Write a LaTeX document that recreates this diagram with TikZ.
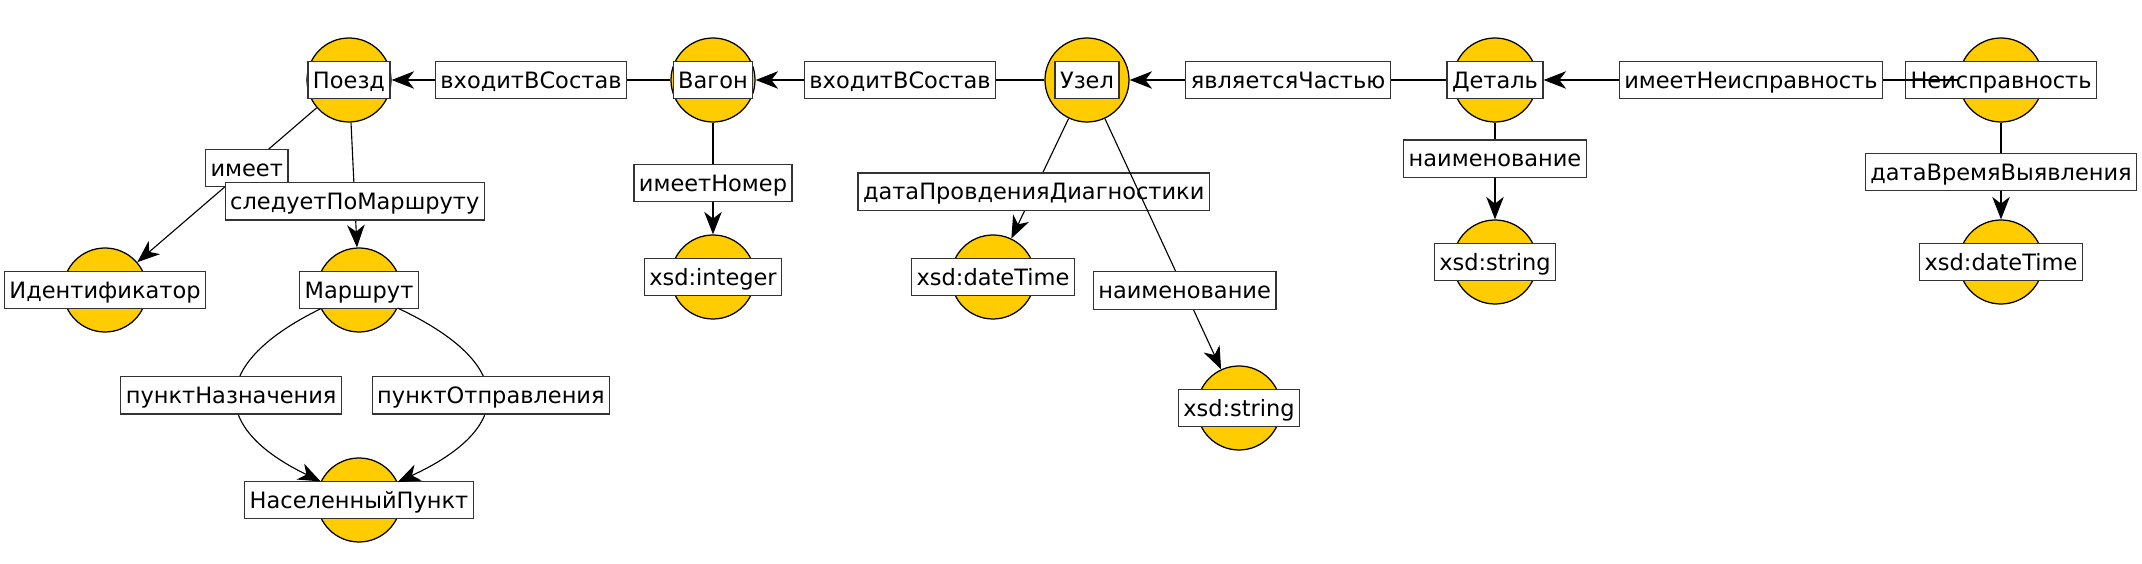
\documentclass[tikz,border=0pt]{standalone}
\usepackage{fontspec}
\setmainfont{DejaVu Sans}
\usetikzlibrary{arrows.meta}
\definecolor{entyellow}{HTML}{FFCC00}
\begin{document}
\begin{tikzpicture}[x=0.4pt,y=-0.4pt,
  entc/.style={circle,draw=black,fill=entyellow,line width=0.5pt,minimum size=33.6pt,inner sep=0pt},
  lbl/.style={draw=black!80,fill=white,line width=0.5pt,minimum height=15pt,inner xsep=2pt,inner ysep=0pt,
    text height=6.55pt,text depth=0pt,font=\fontsize{9}{11}\selectfont},
  conn/.style={line width=0.45pt,-{Stealth[length=9pt,width=7pt,inset=2.7pt]}},
  ]
\useasboundingbox (0,0) rectangle (2142,564);
% entity circles
\node[entc] (poezd) at (349,80) {};
\node[entc] (vagon) at (713,80) {};
\node[entc] (uzel) at (1087,80) {};
\node[entc] (detal) at (1495,80) {};
\node[entc] (neisp) at (2001,80) {};
\node[entc] (ident) at (105,290) {};
\node[entc] (marsh) at (359,290) {};
\node[entc] (nasp) at (359,500) {};
\node[entc] (xint) at (713,277) {};
\node[entc] (xdt1) at (993,277) {};
\node[entc] (xstr1) at (1239,408) {};
\node[entc] (xstr2) at (1495,262) {};
\node[entc] (xdt2) at (2001,262) {};
% entity labels
\node[lbl] (poezdL) at (poezd) {Поезд};
\node[lbl] (vagonL) at (vagon) {Вагон};
\node[lbl] (uzelL) at (uzel) {Узел};
\node[lbl] (detalL) at (detal) {Деталь};
\node[lbl] (neispL) at (neisp) {Неисправность};
\node[lbl] (identL) at (ident) {Идентификатор};
\node[lbl] (marshL) at (marsh) {Маршрут};
\node[lbl] (naspL) at (nasp) {НаселенныйПункт};
\node[lbl] (xintL) at (xint) {xsd:integer};
\node[lbl] (xdt1L) at (xdt1) {xsd:dateTime};
\node[lbl] (xstr1L) at (xstr1) {xsd:string};
\node[lbl] (xstr2L) at (xstr2) {xsd:string};
\node[lbl] (xdt2L) at (xdt2) {xsd:dateTime};
% connectors
\draw[conn] (vagon) -- node[lbl] (e1) {входитВСостав} (poezd);
\draw[conn] (uzel) -- node[lbl] (e2) {входитВСостав} (vagon);
\draw[conn] (detalL) -- node[lbl] (e3) {являетсяЧастью} (uzel);
\draw[conn] (poezd) -- node[lbl,pos=0.39] (e4) {имеет} (ident);
\draw[conn] (poezd) -- node[lbl,pos=0.63] (e5) {следуетПоМаршруту} (marsh);
\draw[conn] (vagon) -- node[lbl,pos=0.54] (e6) {имеетНомер} (xint);
\draw[conn] (uzel) -- node[lbl,pos=0.61] (e7) {датаПровденияДиагностики} (xdt1);
\draw[conn] (uzel) -- node[lbl,pos=0.686] (e8) {наименование} (xstr1);
\draw[conn] (detal) -- node[lbl,pos=0.374] (e9) {наименование} (xstr2);
\draw[conn] (neisp) -- node[lbl,pos=0.51] (e10) {датаВремяВыявления} (xdt2);
\draw[conn] (marsh) .. controls (209,363.5) and (209,427.4) .. node[lbl,xshift=-2.3pt] (e11) {пунктНазначения} (nasp);
\draw[conn] (marsh) .. controls (516,363.5) and (516,427.4) .. node[lbl,xshift=1.8pt] (e12) {пунктОтправления} (nasp);
\draw[conn] (neisp) -- node[lbl] (e13) {имеетНеисправность} (detalL);
\end{tikzpicture}
\end{document}
